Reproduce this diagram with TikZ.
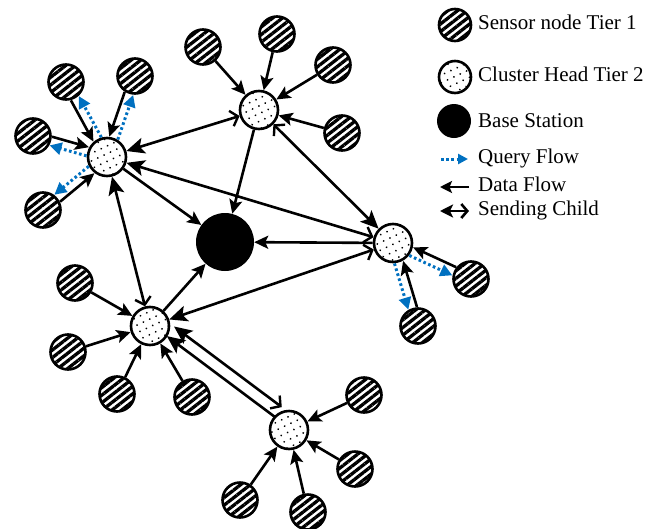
\documentclass[tikz,border=0pt]{standalone}
\usepackage{fontspec}
\setmainfont{Liberation Serif}
\usetikzlibrary{calc,arrows.meta,patterns.meta}
\definecolor{qblue}{HTML}{0070C0}
\def\offdraw[#1](#2)(#3)(#4){\draw[#1] ($(#2)!#4!90:(#3)$) -- ($(#3)!#4!-90:(#2)$);}

\begin{document}
\begin{tikzpicture}[x=1pt,y=-1pt,
		sensor/.style={circle,draw,line width=2.6pt,minimum size=35pt,inner sep=0pt,
			pattern={Lines[angle=38,distance=6pt,line width=3.3pt]}},
		head/.style={circle,draw,line width=2.6pt,minimum size=38pt,inner sep=0pt,
			pattern={Dots[distance=7pt,radius=1pt,angle=25]}},
		station/.style={circle,fill=black,minimum size=58pt,inner sep=0pt},
		BigHead/.tip={Stealth[length=18pt,width=16pt,inset=4pt]},
		OpenHead/.tip={Straight Barb[length=7pt,width=16pt,line width=2.4pt]},
		link/.style={line width=2.6pt},
		data/.style={line width=2.6pt,-{Stealth[length=14pt,width=13pt,inset=3pt]}},
		dflow/.style={data,shorten <=18.5pt,shorten >=20pt},
		qflow/.style={line width=3pt,color=qblue,dash pattern=on 2.6pt off 2.6pt,
			-{Triangle[length=12pt,width=12pt]},shorten <=20pt,shorten >=18.5pt},
		label/.style={anchor=west,inner sep=0pt,text height=14pt,text depth=4.5pt,
			font=\fontsize{21}{25}\selectfont}]
			%%%%% START %%%%%
			
			\useasboundingbox (0,0) rectangle (662,528);
			
			% cluster heads and base station
			\node[head] (ch1) at (107,157) {};
			\node[head] (ch2) at (259,110) {};
			\node[head] (ch3) at (393,243) {};
			\node[head] (ch4) at (150,326) {};
			\node[head] (ch5) at (289,430) {};
			\node[station] (bs) at (225,242) {};
			
			% tier 1 sensors
			\node[sensor] (s11) at (66,82) {};
			\node[sensor] (s12) at (135,76) {};
			\node[sensor] (s13) at (33,136) {};
			\node[sensor] (s14) at (43,210) {};
			
			\node[sensor] (s21) at (203,47) {};
			\node[sensor] (s22) at (277,34) {};
			\node[sensor] (s23) at (333,65) {};
			\node[sensor] (s24) at (342,133) {};
			
			\node[sensor] (s31) at (471,279) {};
			\node[sensor] (s32) at (418,326) {};
			
			\node[sensor] (s41) at (75,283) {};
			\node[sensor] (s42) at (68,352) {};
			\node[sensor] (s43) at (117,394) {};
			\node[sensor] (s44) at (192,397) {};
			
			\node[sensor] (s51) at (364,395) {};
			\node[sensor] (s52) at (355,469) {};
			\node[sensor] (s53) at (240,500) {};
			\node[sensor] (s54) at (308,512) {};
			
			% data and query flow inside the clusters
			\offdraw[dflow](s11)(ch1)(-4.5pt)
			\offdraw[qflow](ch1)(s11)(-4.5pt)
			\offdraw[dflow](s12)(ch1)(-4.5pt)
			\offdraw[qflow](ch1)(s12)(-4.5pt)
			\offdraw[dflow](s13)(ch1)(4.5pt)
			\offdraw[qflow](ch1)(s13)(4.5pt)
			\offdraw[dflow](s14)(ch1)(-4.5pt)
			\offdraw[qflow](ch1)(s14)(-4.5pt)
			
			\draw[data] (s21) -- (ch2);
			\draw[data] (s22) -- (ch2);
			\draw[data] (s23) -- (ch2);
			\draw[data] (s24) -- (ch2);
			
			\offdraw[dflow](s31)(ch3)(-4.5pt)
			\offdraw[qflow](ch3)(s31)(-4.5pt)
			\offdraw[dflow](s32)(ch3)(-4.5pt)
			\offdraw[qflow](ch3)(s32)(-4.5pt)
			
			\draw[data] (s41) -- (ch4);
			\draw[data] (s42) -- (ch4);
			\draw[data] (s43) -- (ch4);
			\draw[data] (s44) -- (ch4);
			
			\draw[data] (s51) -- (ch5);
			\draw[data] (s52) -- (ch5);
			\draw[data] (s53) -- (ch5);
			\draw[data] (s54) -- (ch5);
			
			% between the cluster heads
			\draw[link,{OpenHead}-{BigHead}] (ch2) -- (ch1);
			\draw[link,{OpenHead}-{BigHead}] (ch3) -- (ch1);
			\draw[link,{OpenHead}-{BigHead}] (ch4) -- (ch1);
			\draw[link,{OpenHead}-{BigHead}] (ch2) -- (ch3);
			\draw[link,{OpenHead}-{BigHead}] (ch3) -- (ch4);
			\offdraw[link,shorten <=19.5pt,shorten >=19.5pt,{OpenHead}-{BigHead}](ch5)(ch4)(-14pt)
			\offdraw[link,shorten <=19.5pt,shorten >=19.5pt,-{BigHead}](ch5)(ch4)(-2pt)
			
			\draw[data] (ch1) -- (bs);
			\draw[data] (ch2) -- (bs);
			\draw[data] (ch3) -- (bs);
			\draw[data] (ch4) -- (bs);
			
			% legend
			\node[sensor,minimum size=32pt] (ks) at (455,25) {};
			\node[label] (kst) at (478,25) {Sensor node Tier 1};
			\node[head,minimum size=32pt] (kh) at (455,77) {};
			\node[label] (kht) at (478,77) {Cluster Head Tier 2};
			\node[station,minimum size=34pt] (kb) at (454,121) {};
			\node[label] (kbt) at (478,123) {Base Station};
			
			\coordinate (kq1) at (441,159);
			\coordinate (kq2) at (468,159);
			\node[label] (kqt) at (478,159) {Query Flow};
			\draw[qflow,shorten <=0pt,shorten >=0pt,-{Triangle[length=10pt,width=10pt]}] (kq1) -- (kq2);
			
			\coordinate (kd1) at (469,187);
			\coordinate (kd2) at (440,187);
			\node[label] (kdt) at (478,187) {Data Flow};
			\draw[data,-{Stealth[length=12pt,width=12pt,inset=2.5pt]}] (kd1) -- (kd2);
			
			\coordinate (kc1) at (440,211);
			\coordinate (kc2) at (469,211);
			\node[label] (kct) at (478,211) {Sending Child};
			\draw[link,{Stealth[length=13pt,width=13pt,inset=3pt]}-{Straight Barb[length=6pt,width=14pt]}] (kc1) -- (kc2);
			
			%%%%% END %%%%%
		\end{tikzpicture}
\end{document}
